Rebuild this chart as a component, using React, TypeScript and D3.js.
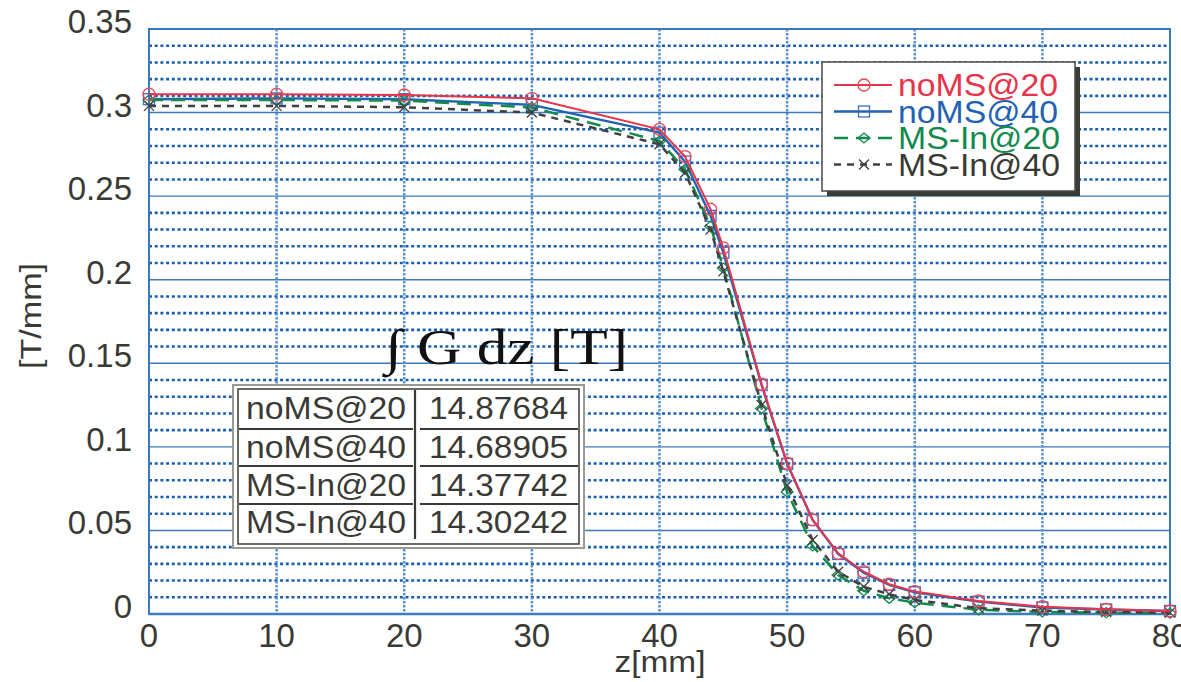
import React from "react";
import * as d3 from "d3";

const zValues = [0, 10, 20, 30, 40, 42, 44, 45, 48, 50, 52, 54, 56, 58, 60, 65, 70, 75, 80];
const noMS20 = [0.311, 0.311, 0.3105, 0.3085, 0.29, 0.2737, 0.2422, 0.219, 0.1375, 0.0902, 0.0563, 0.0363, 0.0253, 0.0178, 0.0134, 0.0078, 0.0044, 0.0028, 0.0018];
const noMS40 = [0.308, 0.3085, 0.308, 0.3046, 0.288, 0.2707, 0.2382, 0.2162, 0.137, 0.0898, 0.0563, 0.0359, 0.0247, 0.0174, 0.013, 0.0074, 0.0039, 0.0027, 0.0018];
const msIn20 = [0.3075, 0.3075, 0.3072, 0.303, 0.283, 0.266, 0.232, 0.207, 0.123, 0.073, 0.0407, 0.0233, 0.0139, 0.0094, 0.0068, 0.0025, 0.0012, 0.0008, 0.0005];
const msIn40 = [0.304, 0.304, 0.3032, 0.3, 0.281, 0.264, 0.23, 0.205, 0.125, 0.077, 0.0443, 0.0253, 0.0163, 0.0118, 0.0084, 0.0035, 0.002, 0.0012, 0.0008];

const seriesNames = ["noMS@20", "noMS@40", "MS-In@20", "MS-In@40"];
const integrals = ["14.87684", "14.68905", "14.37742", "14.30242"];
const xTicks = [0, 10, 20, 30, 40, 50, 60, 70, 80];
const yTicks = [0, 0.05, 0.1, 0.15, 0.2, 0.25, 0.3, 0.35];
const yTickLabels = ["0", "0.05", "0.1", "0.15", "0.2", "0.25", "0.3", "0.35"];

const TEXT = "#3a3a35";
const FONT = "'Liberation Sans', Arial, Helvetica, sans-serif";

type Marker = "circle" | "square" | "diamond" | "x";
const styles: { color: string; dash: string; width: number; marker: Marker; mcolor: string }[] = [
  { color: "#e8344a", dash: "", width: 2, marker: "circle", mcolor: "#e8485a" },
  { color: "#2262b2", dash: "", width: 2.4, marker: "square", mcolor: "#3a6fbf" },
  { color: "#128a4e", dash: "14,8", width: 2.5, marker: "diamond", mcolor: "#128a4e" },
  { color: "#404040", dash: "7,6", width: 2.5, marker: "x", mcolor: "#404040" },
];

function MarkerShape({ type, x, y, color }: { type: Marker; x: number; y: number; color: string }) {
  if (type === "circle") return <circle cx={x} cy={y} r={6} fill="none" stroke={color} strokeWidth={1.3} />;
  if (type === "square")
    return <rect x={x - 5.5} y={y - 5.5} width={11} height={11} fill="none" stroke={color} strokeWidth={1.3} />;
  if (type === "diamond")
    return (
      <path d={`M${x - 6},${y} L${x},${y - 5} L${x + 6},${y} L${x},${y + 5} Z`} fill="none" stroke={color} strokeWidth={1.3} />
    );
  return (
    <path d={`M${x - 5},${y - 5} L${x + 5},${y + 5} M${x - 5},${y + 5} L${x + 5},${y - 5}`} fill="none" stroke={color} strokeWidth={1.3} />
  );
}

export default function App() {
  const W = 1181;
  const H = 682;
  const x = d3.scaleLinear().domain([0, 80]).range([149, 1170]);
  const y = d3.scaleLinear().domain([0, 0.35]).range([614, 29]);
  const data = [noMS20, noMS40, msIn20, msIn40];
  const line = d3
    .line<number>()
    .x((_, i) => x(zValues[i]))
    .y((d) => y(d));

  const minorY = d3.range(0, 36).map((i) => i * 0.01).filter((v) => Math.round(v * 100) % 5 !== 0);
  const majorY = [0.05, 0.1, 0.15, 0.2, 0.25, 0.3];
  const vGrid = [10, 20, 30, 40, 50, 60, 70];
  const drawOrder = [1, 2, 3, 0];

  const lg = { x: 822, y: 62, w: 253, h: 129 };
  const legendRows = [85, 111.5, 138, 164.5];
  const legendTextLen = [160, 160, 162, 162];

  const tb = { x: 233, y: 385, w: 351, h: 163 };
  const colSep = 415;
  const rowCenters = [408, 446.5, 485, 522];
  const rowSeps = [429, 466, 504];

  return (
    <svg width={W} height={H} style={{ position: "absolute", left: 0, top: 0, background: "#fff" }}>
      <rect x={0} y={0} width={W} height={H} fill="#fff" />
      {minorY.map((v) => (
        <line key={"mn" + v} x1={x(0)} x2={x(80)} y1={y(v)} y2={y(v)} stroke="#1a5fae" strokeWidth={2.6} strokeDasharray="3,2.7" />
      ))}
      {majorY.map((v) => (
        <line key={"mj" + v} x1={x(0)} x2={x(80)} y1={y(v)} y2={y(v)} stroke="#3d7ab8" strokeWidth={1.4} />
      ))}
      {vGrid.map((v) => (
        <line key={"vg" + v} x1={x(v)} x2={x(v)} y1={y(0.35)} y2={y(0)} stroke="#5a93cf" strokeWidth={2.5} strokeDasharray="2.5,1.5" />
      ))}
      <rect x={x(0)} y={y(0.35)} width={x(80) - x(0)} height={y(0) - y(0.35)} fill="none" stroke="#3a78bb" strokeWidth={2} />
      <line x1={x(0)} x2={x(80)} y1={y(0)} y2={y(0)} stroke="#3d7ebf" strokeWidth={2.5} />

      {drawOrder.map((si) => (
        <g key={"s" + si}>
          <path
            d={line(data[si]) || ""}
            fill="none"
            stroke={styles[si].color}
            strokeWidth={styles[si].width}
            strokeDasharray={styles[si].dash || undefined}
          />
          {data[si].map((v, i) => (
            <MarkerShape key={i} type={styles[si].marker} x={x(zValues[i])} y={y(v)} color={styles[si].mcolor} />
          ))}
        </g>
      ))}

      {yTicks.map((v, i) => (
        <text key={"yt" + v} x={132} y={y(v) + 4} textAnchor="end" fontFamily={FONT} fontSize={33} fill={TEXT}>
          {yTickLabels[i]}
        </text>
      ))}
      {xTicks.map((v) => (
        <text key={"xt" + v} x={x(v)} y={y(0) + 33} textAnchor="middle" fontFamily={FONT} fontSize={33} fill={TEXT}>
          {v}
        </text>
      ))}
      <text x={660} y={672} textAnchor="middle" fontFamily={FONT} fontSize={29} fill={TEXT} textLength={91} lengthAdjust="spacingAndGlyphs">
        z[mm]
      </text>
      <text
        transform="translate(41,316) rotate(-90)"
        textAnchor="middle"
        fontFamily={FONT}
        fontSize={29}
        fill={TEXT}
        textLength={106}
        lengthAdjust="spacingAndGlyphs"
      >
        [T/mm]
      </text>

      <rect x={lg.x + 5} y={lg.y + 5} width={lg.w} height={lg.h} fill="#3a3d35" />
      <rect x={lg.x} y={lg.y} width={lg.w} height={lg.h} fill="#fff" stroke="#4a4a45" strokeWidth={1.5} />
      {seriesNames.map((name, i) => (
        <g key={"lg" + i}>
          <line
            x1={834}
            x2={892}
            y1={legendRows[i]}
            y2={legendRows[i]}
            stroke={styles[i].color}
            strokeWidth={styles[i].width}
            strokeDasharray={styles[i].dash || undefined}
          />
          <MarkerShape type={styles[i].marker} x={864} y={legendRows[i]} color={styles[i].mcolor} />
          <text
            x={898}
            y={legendRows[i] + 11}
            fontFamily={FONT}
            fontSize={32}
            fill={styles[i].color === "#404040" ? "#3a3a35" : styles[i].color}
            textLength={legendTextLen[i]}
            lengthAdjust="spacingAndGlyphs"
          >
            {name}
          </text>
        </g>
      ))}

      <text x={385} y={364} fontFamily="'Liberation Serif', 'Times New Roman', serif" fontSize={50} fill="#111" textLength={243} lengthAdjust="spacingAndGlyphs">
        ∫ G dz [T]
      </text>

      <rect x={tb.x} y={tb.y} width={tb.w} height={tb.h} fill="#fff" stroke="#9a9a95" strokeWidth={2} />
      <rect x={tb.x + 5} y={tb.y + 4} width={tb.w - 10} height={tb.h - 8} fill="none" stroke="#3a3a35" strokeWidth={1.5} />
      <line x1={colSep} x2={colSep} y1={tb.y + 5} y2={tb.y + tb.h - 9} stroke="#3a3a35" strokeWidth={2.2} />
      {rowSeps.map((ry) => (
        <g key={"rs" + ry}>
          <line x1={tb.x + 6} x2={colSep - 2} y1={ry} y2={ry} stroke="#3a3a35" strokeWidth={2} />
          <line x1={colSep + 5} x2={tb.x + tb.w - 6} y1={ry} y2={ry} stroke="#3a3a35" strokeWidth={2} />
        </g>
      ))}
      {seriesNames.map((name, i) => (
        <g key={"tr" + i}>
          <text x={326} y={rowCenters[i] + 11} textAnchor="middle" fontFamily={FONT} fontSize={31} fill={TEXT} textLength={160} lengthAdjust="spacingAndGlyphs">
            {name}
          </text>
          <text x={498.5} y={rowCenters[i] + 11} textAnchor="middle" fontFamily={FONT} fontSize={31} fill={TEXT} textLength={139} lengthAdjust="spacingAndGlyphs">
            {integrals[i]}
          </text>
        </g>
      ))}
    </svg>
  );
}
